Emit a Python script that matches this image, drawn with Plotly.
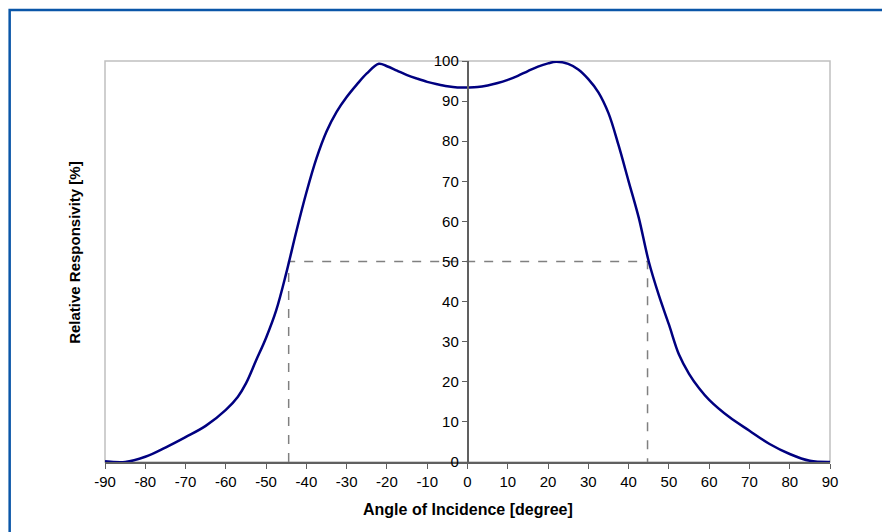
import plotly.graph_objects as go

angles = [-90, -85, -80, -75, -70, -65, -60, -57, -55, -52.5, -50, -47.5, -45, -42.5,
          -40, -37.5, -35, -32.5, -30, -27.5, -25, -22, -20, -17.5, -15, -12.5, -10,
          -7.5, -5, -2.5, 0, 2.5, 5, 7.5, 10, 12.5, 15, 17.5, 20, 22, 25, 27.5, 30,
          32.5, 35, 37.5, 40, 42.5, 45, 47.5, 50, 52.5, 55, 57.5, 60, 65, 70, 75, 80,
          85, 90]
responsivity = [0.2, 0, 1.3, 3.6, 6.2, 9.0, 13, 16.3, 19.6, 25.3, 31, 37.8, 47.1, 57.5,
                67.2, 75.7, 82.4, 87.3, 91, 94.1, 96.9, 99.3, 98.7, 97.6, 96.5, 95.6, 94.8,
                94.2, 93.7, 93.4, 93.4, 93.5, 93.9, 94.5, 95.3, 96.3, 97.5, 98.6, 99.4,
                99.8, 99.3, 97.9, 95.5, 92.2, 87, 79, 70, 61, 50, 41.6, 34.3, 26.8, 22,
                18.4, 15.5, 11.2, 7.8, 4.5, 2.0, 0.3, 0]
half_left = -44.4
half_right = 44.7
half_level = 50

x_ticks = list(range(-90, 91, 10))
y_ticks = list(range(0, 101, 10))

fig = go.Figure()
fig.add_trace(go.Scatter(
    x=[half_left, half_left, half_right, half_right],
    y=[0, half_level, half_level, 0],
    mode="lines", line=dict(color="#808080", width=1.5, dash="dash"),
    hoverinfo="skip", showlegend=False))
fig.add_trace(go.Scatter(
    x=angles, y=responsivity, mode="lines",
    line=dict(color="#000080", width=2.5, shape="spline", smoothing=1.0),
    showlegend=False))

font = dict(family="Liberation Sans, Arial, sans-serif", size=15, color="#000000")
xtitle_font = dict(family="Liberation Sans, Arial, sans-serif", size=16, color="#000000")

fig.update_layout(
    width=890, height=532,
    margin=dict(l=97, r=68, t=53, b=78),
    paper_bgcolor="white", plot_bgcolor="white",
    font=font,
    xaxis=dict(range=[-90, 90], tickvals=x_ticks, ticktext=[str(v) for v in x_ticks],
               showgrid=False, zeroline=False, showline=True, linecolor="#606060",
               linewidth=2, ticks="outside", ticklen=5, tickcolor="#606060",
               tickfont=font),
    yaxis=dict(range=[0, 100], tickvals=y_ticks, ticktext=[str(v) for v in y_ticks],
               anchor="free", position=0.5,
               showgrid=False, zeroline=False, showline=True, linecolor="#606060",
               linewidth=1.5, ticks="outside", ticklen=5, tickcolor="#606060",
               tickfont=font),
    shapes=[
        dict(type="rect", xref="paper", yref="paper", x0=0, x1=1, y0=0, y1=1,
             line=dict(color="#c0c0c0", width=1.5), layer="below"),
        dict(type="rect", xref="paper", yref="paper", x0=-0.1315, x1=1.1, y0=-0.2, y1=1.127,
             line=dict(color="#0A56A8", width=2.5), fillcolor="rgba(0,0,0,0)"),
    ],
    annotations=[
        dict(text="<b>Angle of Incidence [degree]</b>", xref="paper", yref="paper",
             x=0.5, y=-0.118, xanchor="center", yanchor="middle", showarrow=False,
             font=xtitle_font),
        dict(text="<b>Relative Responsivity [%]</b>", xref="paper", yref="paper",
             x=-0.0414, y=0.524, xanchor="center", yanchor="middle", showarrow=False,
             textangle=-90, font=font),
    ],
)

fig.write_html("out.html")
